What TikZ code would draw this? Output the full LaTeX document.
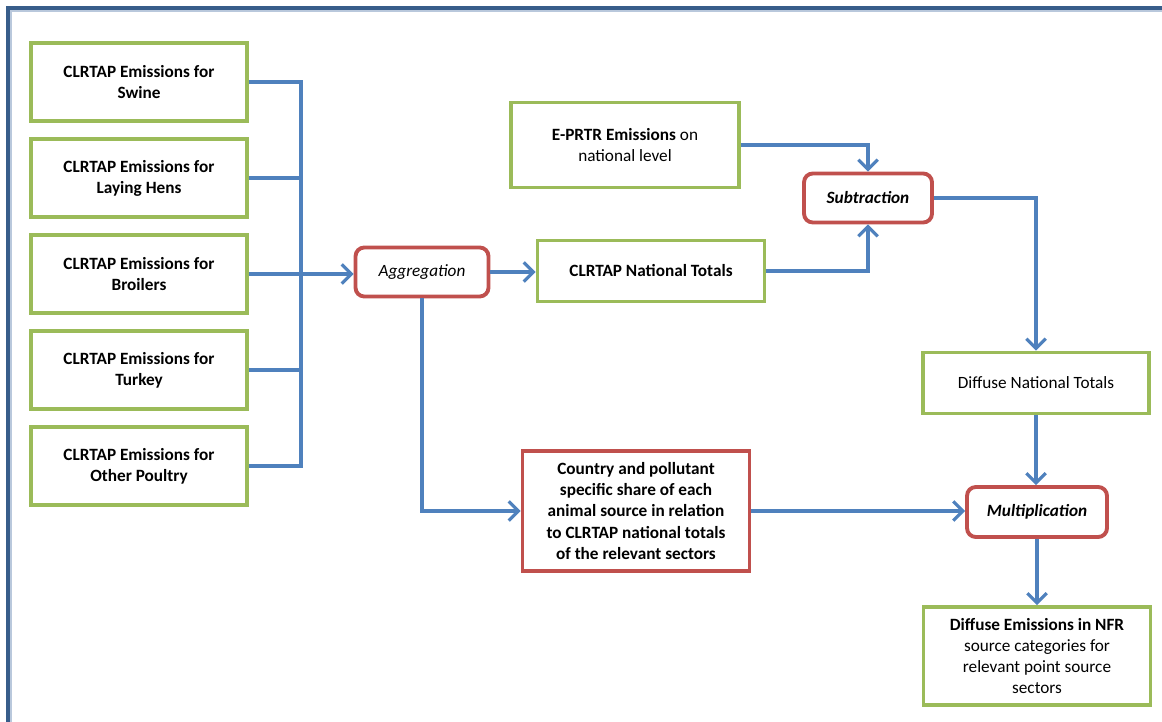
\documentclass[tikz,border=0pt]{standalone}
\usepackage{fontspec}
\setmainfont{Carlito}
\usepackage{tikz}
\usetikzlibrary{positioning,arrows.meta}
\definecolor{boxgreen}{RGB}{155,187,89}
\definecolor{boxred}{RGB}{192,80,77}
\definecolor{linkblue}{RGB}{79,129,189}
\definecolor{framedark}{RGB}{56,93,138}
\definecolor{framelight}{RGB}{185,200,220}
\tikzset{
  greenbox/.style={draw=boxgreen, line width=2.2pt, fill=white, align=center,
    inner sep=2pt, font=\fontsize{9.8}{12}\selectfont},
  redbox/.style={draw=boxred, line width=2.2pt, fill=white, align=center,
    inner sep=2pt, font=\fontsize{9.8}{12}\selectfont},
  roundbox/.style={redbox, rounded corners=5pt},
  link/.style={draw=linkblue, line width=1.8pt},
  arrow/.style={link, -{Straight Barb[length=5.5pt,width=11pt,line width=1.8pt]}}
}
\begin{document}
\begin{tikzpicture}[x=0.02cm, y=-0.02cm]
\useasboundingbox (0,0) rectangle (1162,722);
% frame
\draw[framelight, line width=0.7pt] (11,722) -- (11,11) -- (1162,11);
\draw[framedark, line width=2.2pt] (8,722) -- (8,8) -- (1162,8);
% animal sources
\foreach \name/\lbl [count=\i] in {swine/Swine, hens/Laying Hens, broil/Broilers,
    turkey/Turkey, poultry/Other Poultry} {
  \node[greenbox, minimum width=4.32cm, minimum height=1.56cm] (\name)
    at (139,{82+96*(\i-1)}) {\textbf{CLRTAP Emissions for}\\\textbf{\lbl}};
}
\coordinate (bus) at (301,274);
% processing steps
\node[roundbox, minimum width=2.66cm, minimum height=0.98cm] (agg) at (422,272) {\textit{Aggregation}};
\node[greenbox, minimum width=4.54cm, minimum height=1.22cm] (nat) at (651,271) {\textbf{CLRTAP National Totals}};
\node[greenbox, minimum width=4.56cm, minimum height=1.7cm] (eprtr) at (625,145) {\textbf{E-PRTR Emissions} on\\national level};
\node[roundbox, minimum width=2.56cm, minimum height=0.98cm] (sub) at (868,198) {\textbf{\textit{Subtraction}}};
\node[greenbox, minimum width=4.52cm, minimum height=1.22cm] (diff) at (1036,383) {Diffuse National Totals};
\node[roundbox, minimum width=2.8cm, minimum height=1cm] (mult) at (1037,512) {\textbf{\textit{Multiplication}}};
\node[redbox, minimum width=4.54cm, minimum height=2.4cm] (share) at (636,511)
  {\textbf{Country and pollutant}\\\textbf{specific share of each}\\\textbf{animal source in relation}\\\textbf{to CLRTAP national totals}\\\textbf{of the relevant  sectors}};
\node[greenbox, minimum width=4.54cm, minimum height=1.96cm] (nfr) at (1037,656)
  {\textbf{Diffuse Emissions in NFR}\\source categories for\\relevant point source\\sectors};
% connectors
\foreach \name in {swine,hens,broil,turkey,poultry} {
  \draw[link] (\name.east) -- (\name.east -| bus);
}
\draw[link, line cap=rect] (swine.east -| bus) -- (poultry.east -| bus);
\draw[arrow] (bus) -- (agg.west |- bus);
\draw[arrow] (agg.east) -- (nat.west |- agg.east);
\draw[arrow] (eprtr.east) -| (sub.north);
\draw[arrow] (nat.east) -| (sub.south);
\draw[arrow] (sub.east) -| (diff.north);
\draw[arrow] (diff.south) -- (mult.north -| diff.south);
\draw[arrow] (agg.south) |- (share.west);
\draw[arrow] (share.east) -- (mult.west |- share.east);
\draw[arrow] (mult.south) -- (nfr.north -| mult.south);
\end{tikzpicture}
\end{document}
